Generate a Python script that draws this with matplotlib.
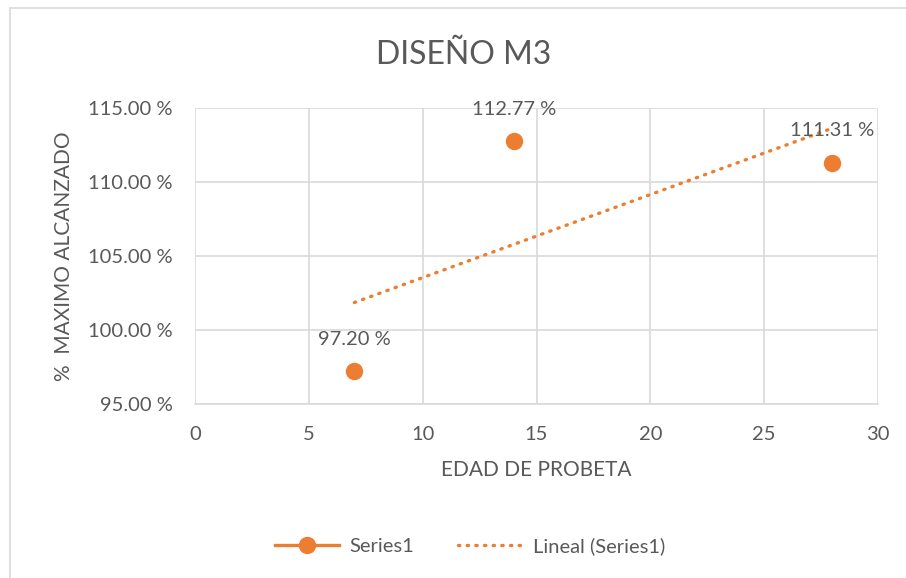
import matplotlib.pyplot as plt
import numpy as np
from matplotlib.patches import Rectangle

# data
edades = [7, 14, 28]
maximo = [97.20, 112.77, 111.31]
etiquetas = ["97.20 %", "112.77 %", "111.31 %"]

naranja = "#ED7D31"
gris_texto = "#595959"
gris_grid = "#D9D9D9"
punteado = (0, (0.4, 2.2))

plt.rcParams["font.family"] = ["Lato", "DejaVu Sans"]

fig = plt.figure(figsize=(9.06, 5.78), dpi=100)
ax = fig.add_axes([195 / 906, 1 - 404 / 578, (878 - 195) / 906, (404 - 108) / 578])

# chart border
fig.patches.append(Rectangle((10 / 906, -0.1), 2, 1 - 8 / 578 + 0.1,
                             transform=fig.transFigure, fill=False,
                             edgecolor=gris_grid, linewidth=1.2))

ax.plot(edades, maximo, linestyle="none", marker="o", markersize=11.5,
        color=naranja, zorder=3)

# linear trendline
m, b = np.polyfit(edades, maximo, 1)
xt = np.array([min(edades), max(edades)])
ax.plot(xt, m * xt + b, color=naranja, linewidth=2.4,
        linestyle=punteado, dash_capstyle="round", zorder=2)

for x, y, t in zip(edades, maximo, etiquetas):
    ax.annotate(t, (x, y), xytext=(0, 23), textcoords="offset points",
                ha="center", va="center", fontsize=14.5, color=gris_texto)

ax.set_xlim(0, 30)
ax.set_ylim(95, 115)
ax.set_xticks(range(0, 31, 5))
ax.set_yticks(range(95, 116, 5))
ax.set_yticklabels([f"{v:.2f} %" for v in range(95, 116, 5)])
ax.grid(True, color=gris_grid, linewidth=1.2)
ax.set_axisbelow(True)
for s in ["top", "right", "left"]:
    ax.spines[s].set_visible(False)
ax.spines["bottom"].set_color(gris_grid)
ax.spines["bottom"].set_linewidth(1.2)
ax.tick_params(length=0, labelsize=14.5, labelcolor=gris_texto)
ax.tick_params(axis="x", pad=16)
ax.tick_params(axis="y", pad=16)

ax.set_xlabel("EDAD DE PROBETA", fontsize=15, color=gris_texto, labelpad=12)
ax.set_ylabel("%  MAXIMO ALCANZADO", fontsize=15, color=gris_texto, labelpad=10)

fig.text(464 / 906, 1 - 55 / 578, "DISEÑO M3", ha="center", va="center",
         fontsize=23, color=gris_texto)

# legend at the bottom
h1, = ax.plot([], [], color=naranja, linewidth=2.4, marker="o", markersize=11.5)
h2, = ax.plot([], [], color=naranja, linewidth=2.4,
              linestyle=punteado, dash_capstyle="round")
fig.legend([h1, h2], ["Series1", "Lineal (Series1)"], loc="center",
           bbox_to_anchor=(470 / 906, 1 - 546 / 578), ncol=2, frameon=False,
           fontsize=14.5, labelcolor=gris_texto, handlelength=3.2,
           columnspacing=2.2, handletextpad=0.5)

fig.savefig("out.png", dpi=100)
